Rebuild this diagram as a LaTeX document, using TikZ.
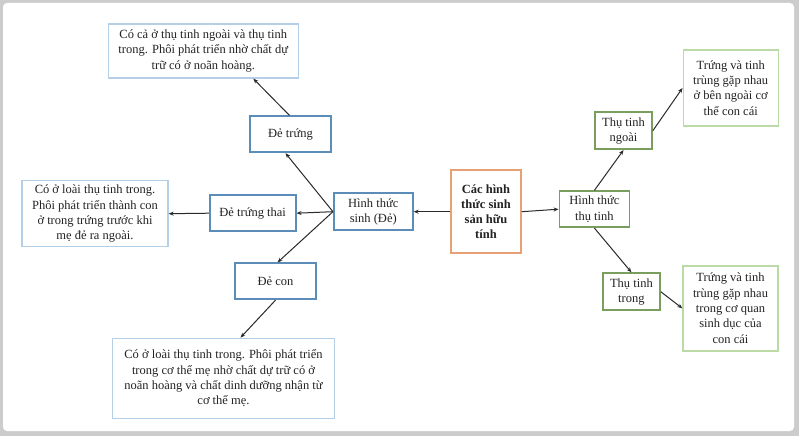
\documentclass[tikz,border=0pt]{standalone}
\usepackage{fontspec}
\setmainfont{Liberation Serif}
\usetikzlibrary{arrows.meta}

\definecolor{frameGray}{HTML}{CCCCCC}
\definecolor{boxBlue}{HTML}{5B8DB8}
\definecolor{noteBlue}{HTML}{B4D0E8}
\definecolor{boxGreen}{HTML}{7A9E5E}
\definecolor{noteGreen}{HTML}{BCDAA6}
\definecolor{boxOrange}{HTML}{E6A275}
\definecolor{lineGray}{HTML}{2A2A2A}
\definecolor{textGray}{HTML}{222222}

\begin{document}
\begin{tikzpicture}[x=1pt, y=-1pt,
    every node/.style={font=\fontsize{12.5}{15.3}\selectfont, align=center, inner sep=0pt, text=textGray},
    kindbox/.style={draw=boxBlue, line width=1.7pt},
    kindnote/.style={draw=noteBlue, line width=1.3pt},
    fertbox/.style={draw=boxGreen, line width=1.7pt},
    fertnote/.style={draw=noteGreen, line width=1.4pt},
    link/.style={draw=lineGray, line width=1pt, -{Stealth[length=5pt, width=4pt]}}]

    % Frame
    \fill[frameGray] (0, 0) rectangle (799, 436);
    \fill[white, rounded corners=4pt] (3, 3) rectangle (794, 431);
    \useasboundingbox (0, 0) rectangle (799, 436);

    % Centre
    \node[draw=boxOrange, line width=1.5pt, minimum width=70pt, minimum height=83pt,
          font=\fontsize{12.5}{15.3}\selectfont\bfseries] (root) at (486, 211.7)
          {Các hình\\thức sinh\\sản hữu\\tính};

    % Left branch: sinh (Đẻ)
    \node[kindbox, minimum width=79pt, minimum height=37pt] (sinh) at (373.3, 211.7) {Hình thức\\sinh (Đẻ)};
    \node[kindbox, minimum width=81pt, minimum height=36pt] (detrung) at (290.5, 134.3) {Đẻ trứng};
    \node[kindbox, minimum width=86pt, minimum height=36pt] (detrungthai) at (252.7, 213.2) {Đẻ trứng thai};
    \node[kindbox, minimum width=81pt, minimum height=36pt] (decon) at (275.5, 281.3) {Đẻ con};

    \node[kindnote, minimum width=190pt, minimum height=54pt] (notetrung) at (203.3, 51)
        {Có cả ở thụ tinh ngoài và thụ tinh\\trong. Phôi phát triển nhờ chất dự\\trữ có ở noãn hoàng.};
    \node[kindnote, minimum width=146pt, minimum height=66pt] (notethai) at (95, 213.7)
        {Có ở loài thụ tinh trong.\\Phôi phát triển thành con\\ở trong trứng trước khi\\mẹ đẻ ra ngoài.};
    \node[kindnote, minimum width=222pt, minimum height=80pt] (notecon) at (223.5, 378.3)
        {Có ở loài thụ tinh trong. Phôi phát triển\\trong cơ thể mẹ nhờ chất dự trữ có ở\\noãn hoàng và chất dinh dưỡng nhận từ\\cơ thể mẹ.};

    % Right branch: thụ tinh
    \node[fertbox, minimum width=70pt, minimum height=36pt] (thutinh) at (594.4, 209.2) {Hình thức\\thụ tinh};
    \node[fertbox, minimum width=57pt, minimum height=37pt] (ngoai) at (623.5, 130.7) {Thụ tinh\\ngoài};
    \node[fertbox, minimum width=57pt, minimum height=37pt] (trong) at (631.4, 291.7) {Thụ tinh\\trong};

    \node[fertnote, minimum width=95pt, minimum height=76pt] (notengoai) at (730.7, 88)
        {Trứng và tinh\\trùng gặp nhau\\ở bên ngoài cơ\\thể con cái};
    \node[fertnote, minimum width=95pt, minimum height=85pt] (notetrong) at (730.5, 308.3)
        {Trứng và tinh\\trùng gặp nhau\\trong cơ quan\\sinh dục của\\con cái};

    % Connectors
    \draw[link] (root.west) -- (sinh.east);
    \draw[link] (root.east) -- (thutinh.west);

    \draw[link] (sinh.west) -- ([xshift=-5pt]detrung.south);
    \draw[link] (sinh.west) -- (detrungthai.east);
    \draw[link] (sinh.west) -- ([xshift=2pt]decon.north);

    \draw[link] ([xshift=-1pt]detrung.north) -- ([xshift=50pt]notetrung.south);
    \draw[link] (detrungthai.west) -- (notethai.east);
    \draw[link] (decon.south) -- ([xshift=17pt]notecon.north);

    \draw[link] (thutinh.north) -- (ngoai.south);
    \draw[link] (ngoai.east) -- (notengoai.west);
    \draw[link] (thutinh.south) -- (trong.north);
    \draw[link] (trong.east) -- (notetrong.west);

\end{tikzpicture}
\end{document}
